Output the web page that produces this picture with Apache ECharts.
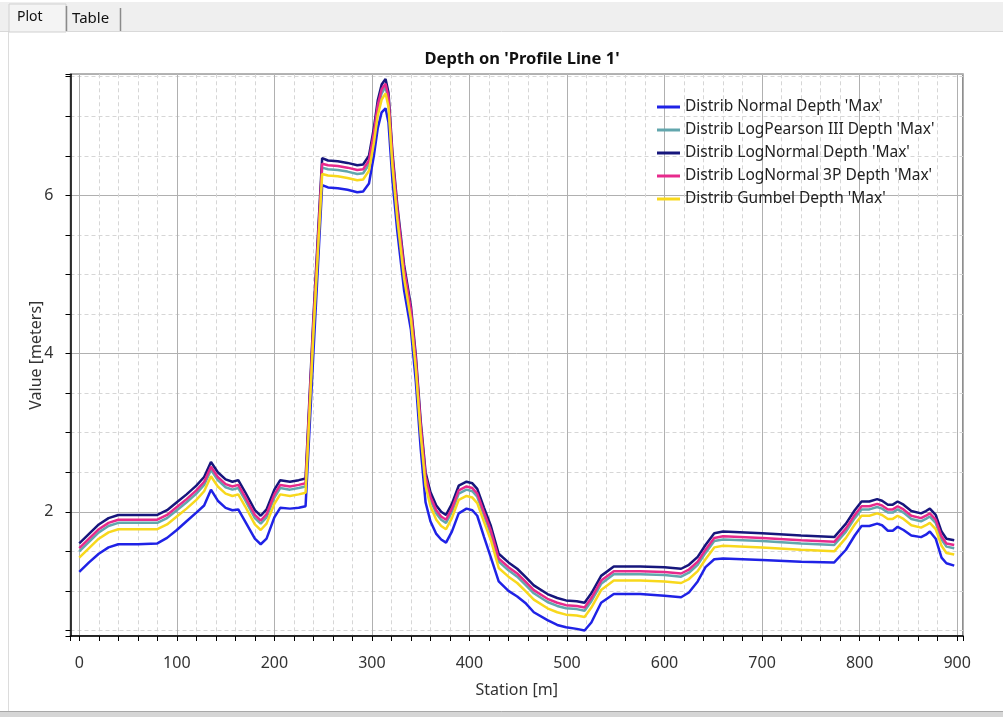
<!DOCTYPE html>
<html>
<head>
<meta charset="utf-8">
<script src="https://cdn.jsdelivr.net/npm/echarts@6/dist/echarts.min.js"></script>
<style>
html,body{margin:0;padding:0;background:#fff;}
#chart{width:1003px;height:717px;}
</style>
</head>
<body>
<div id="chart"></div>
<script>
const stations = [0,10,20,30,40,60,80,90,100,110,
  120,128,135,142,150,157,163,170,180,186,
  192,200,206,216,225,232,240,249,255,265,
  275,285,291,297,302,306,310,314,317,321,
  326,333,340,345,350,355,360,366,371,376,
  382,389,397,403,408,415,422,430,440,449,
  458,466,480,490,499,510,518,525,535,548,
  575,600,617,625,634,642,651,660,700,740,
  774,786,795,802,810,818,823,829,834,839,
  845,853,863,868,872,878,884,889,897];

const normalDepth = [1.24,1.36,1.47,1.55,1.59,1.59,1.60,1.67,1.77,1.88,
  1.99,2.08,2.28,2.14,2.05,2.02,2.03,1.88,1.66,1.59,
  1.66,1.93,2.05,2.04,2.05,2.07,4.00,6.13,6.10,6.09,
  6.07,6.04,6.05,6.15,6.50,6.85,7.05,7.10,6.92,6.20,
  5.55,4.80,4.30,3.65,2.80,2.12,1.88,1.72,1.65,1.61,
  1.75,1.98,2.04,2.02,1.95,1.68,1.42,1.12,1.00,0.93,
  0.84,0.73,0.63,0.57,0.54,0.52,0.50,0.60,0.85,0.96,
  0.96,0.94,0.92,0.98,1.12,1.30,1.40,1.41,1.39,1.37,
  1.36,1.52,1.70,1.82,1.82,1.85,1.83,1.76,1.76,1.81,
  1.77,1.70,1.68,1.71,1.75,1.66,1.42,1.35,1.32];

const logPearsonDepth = [1.50,1.62,1.74,1.82,1.86,1.86,1.86,1.92,2.02,2.12,
  2.23,2.34,2.53,2.40,2.31,2.28,2.30,2.15,1.92,1.85,
  1.93,2.18,2.30,2.28,2.30,2.32,4.33,6.35,6.33,6.32,
  6.30,6.27,6.28,6.39,6.74,7.09,7.29,7.37,7.20,6.46,
  5.79,5.03,4.51,3.89,3.06,2.41,2.15,1.98,1.90,1.86,
  2.00,2.23,2.28,2.26,2.19,1.95,1.72,1.37,1.26,1.18,
  1.07,0.97,0.86,0.81,0.78,0.77,0.75,0.87,1.09,1.21,
  1.21,1.20,1.18,1.23,1.33,1.48,1.63,1.65,1.63,1.60,
  1.58,1.75,1.92,2.03,2.03,2.06,2.04,1.99,1.99,2.03,
  1.99,1.91,1.88,1.91,1.94,1.86,1.65,1.56,1.54];

const logNormalDepth = [1.60,1.72,1.84,1.92,1.96,1.96,1.96,2.02,2.12,2.22,
  2.33,2.44,2.63,2.50,2.41,2.38,2.40,2.25,2.02,1.95,
  2.03,2.28,2.40,2.38,2.40,2.42,4.45,6.47,6.44,6.43,
  6.41,6.38,6.39,6.50,6.85,7.20,7.40,7.47,7.30,6.55,
  5.88,5.12,4.60,3.98,3.15,2.50,2.25,2.08,2.00,1.96,
  2.10,2.33,2.38,2.36,2.29,2.05,1.82,1.47,1.36,1.28,
  1.17,1.07,0.96,0.91,0.88,0.87,0.85,0.97,1.19,1.31,
  1.31,1.30,1.28,1.33,1.43,1.58,1.73,1.75,1.73,1.70,
  1.68,1.85,2.02,2.13,2.13,2.16,2.14,2.09,2.09,2.13,
  2.09,2.01,1.98,2.01,2.04,1.96,1.75,1.66,1.64];

const logNormal3PDepth = [1.54,1.66,1.78,1.86,1.90,1.90,1.90,1.96,2.06,2.16,
  2.27,2.38,2.57,2.44,2.35,2.32,2.34,2.19,1.96,1.89,
  1.97,2.22,2.34,2.32,2.34,2.36,4.38,6.40,6.38,6.37,
  6.35,6.32,6.33,6.44,6.79,7.14,7.34,7.41,7.24,6.50,
  5.83,5.07,4.55,3.93,3.10,2.45,2.19,2.02,1.94,1.90,
  2.04,2.27,2.32,2.30,2.23,1.99,1.76,1.41,1.30,1.22,
  1.11,1.01,0.90,0.85,0.82,0.81,0.79,0.91,1.13,1.25,
  1.25,1.24,1.22,1.27,1.37,1.52,1.67,1.69,1.67,1.64,
  1.62,1.79,1.96,2.07,2.07,2.10,2.08,2.03,2.03,2.07,
  2.03,1.95,1.92,1.95,1.98,1.90,1.69,1.60,1.58];

const gumbelDepth = [1.42,1.54,1.66,1.74,1.78,1.78,1.78,1.84,1.94,2.04,
  2.15,2.26,2.45,2.32,2.23,2.20,2.22,2.07,1.84,1.77,
  1.85,2.10,2.22,2.20,2.22,2.24,4.25,6.27,6.25,6.24,
  6.22,6.19,6.20,6.31,6.66,7.01,7.21,7.29,7.12,6.38,
  5.71,4.95,4.43,3.81,2.98,2.33,2.07,1.90,1.82,1.78,
  1.92,2.15,2.20,2.18,2.11,1.87,1.64,1.29,1.18,1.10,
  0.99,0.89,0.78,0.73,0.70,0.69,0.67,0.79,1.01,1.13,
  1.13,1.12,1.10,1.15,1.25,1.40,1.55,1.57,1.55,1.52,
  1.50,1.67,1.84,1.95,1.95,1.98,1.96,1.91,1.91,1.95,
  1.91,1.83,1.80,1.83,1.86,1.78,1.57,1.48,1.46];

const seriesNames = ["Distrib Normal Depth 'Max'", "Distrib LogPearson III Depth 'Max'", "Distrib LogNormal Depth 'Max'", "Distrib LogNormal 3P Depth 'Max'", "Distrib Gumbel Depth 'Max'"];
const seriesColors = ['#1f22e6', '#62a6ad', '#16167c', '#e72a8c', '#f8d81c'];
const seriesValues = [normalDepth, logPearsonDepth, logNormalDepth, logNormal3PDepth, gumbelDepth];

const xMajorLabels = [0,100,200,300,400,500,600,700,800,900];
const yMajorLabels = [2,4,6];

const FONT = 'Noto Sans';
const chart = echarts.init(document.getElementById('chart'), null, {renderer:'canvas'});

const series = seriesNames.map((n, i) => ({
  name: n,
  type: 'line',
  xAxisIndex: 0,
  yAxisIndex: 0,
  data: stations.map((s, j) => [s, seriesValues[i][j]]),
  showSymbol: false,
  symbol: 'none',
  lineStyle: {color: seriesColors[i], width: 2.5},
  itemStyle: {color: seriesColors[i]},
  animation: false
}));

const option = {
  animation: false,
  backgroundColor: '#ffffff',
  title: {
    text: "Depth on 'Profile Line 1'",
    left: 517, top: 46, textAlign: 'center',
    textStyle: {fontFamily: FONT, fontSize: 16.5, fontWeight: 'bold', color: '#111'}
  },
  legend: {
    orient: 'vertical', left: 657, top: 99, padding: 0,
    itemWidth: 23, itemHeight: 3, itemGap: 7, icon: 'rect',
    selectedMode: false,
    textStyle: {fontFamily: FONT, fontSize: 15.5, lineHeight: 16, color: '#222'},
    data: seriesNames
  },
  grid: {
    left: 70.5, right: 40, top: 74.3, bottom: 81,
    show: true, borderColor: '#6a6a6a', borderWidth: 1.5, backgroundColor: 'transparent'
  },
  xAxis: [
    {
      type: 'value', position: 'bottom', min: -9, max: 906, minInterval: 20, maxInterval: 20,
      axisLine: {show: true, onZero: false, lineStyle: {color: '#000', width: 1.5}},
      axisTick: {show: true, inside: false, length: 5, lineStyle: {color: '#000', width: 1}},
      axisLabel: {show: false},
      splitLine: {show: true, lineStyle: {color: '#d6d6d6', type: [4,3], width: 1}}
    },
    {
      type: 'value', position: 'bottom', min: -9, max: 906, minInterval: 100, maxInterval: 100,
      axisLine: {show: false, onZero: false}, axisTick: {show: false},
      axisLabel: {show: true, margin: 19, fontFamily: FONT, fontSize: 16, color: '#333',
        formatter: v => (xMajorLabels.indexOf(Math.round(v)) >= 0 && Math.abs(v - Math.round(v)) < 1e-6) ? String(Math.round(v)) : ''},
      splitLine: {show: true, lineStyle: {color: '#b0b0b0', width: 1}},
      name: 'Station [m]', nameLocation: 'middle', nameGap: 46, nameMoveOverlap: false,
      nameTextStyle: {fontFamily: FONT, fontSize: 16, color: '#333'}
    }
  ],
  yAxis: [
    {
      type: 'value', position: 'left', min: 0.43, max: 7.53, minInterval: 0.5, maxInterval: 0.5,
      axisLine: {show: true, onZero: false, lineStyle: {color: '#000', width: 1.5}},
      axisTick: {show: true, inside: false, length: 5, lineStyle: {color: '#000', width: 1}},
      axisLabel: {show: false},
      splitLine: {show: true, lineStyle: {color: '#d6d6d6', type: [4,3], width: 1}}
    },
    {
      type: 'value', position: 'left', min: 0.43, max: 7.53, minInterval: 2, maxInterval: 2,
      axisLine: {show: false, onZero: false}, axisTick: {show: false},
      axisLabel: {show: true, margin: 17, fontFamily: FONT, fontSize: 16, color: '#333',
        formatter: v => (yMajorLabels.indexOf(Math.round(v)) >= 0 && Math.abs(v - Math.round(v)) < 1e-6) ? String(Math.round(v)) : ''},
      splitLine: {show: true, lineStyle: {color: '#b0b0b0', width: 1}},
      name: 'Value [meters]', nameLocation: 'middle', nameGap: 26, nameMoveOverlap: false,
      nameTextStyle: {fontFamily: FONT, fontSize: 16, color: '#333'}
    }
  ],
  graphic: [
    {type: 'rect', z: -10, silent: true, shape: {x: 0, y: 2, width: 1003, height: 29}, style: {fill: '#efefef'}},
    {type: 'line', z: -9, silent: true, shape: {x1: 0, y1: 31.5, x2: 1003, y2: 31.5}, style: {stroke: '#d9d9d9', lineWidth: 1}},
    {type: 'rect', z: -9, silent: true, shape: {x: 9, y: 4, width: 57, height: 28}, style: {fill: '#f4f4f4', stroke: '#d0d0d0', lineWidth: 1}},
    {type: 'line', z: -8, silent: true, shape: {x1: 66.5, y1: 6, x2: 66.5, y2: 31}, style: {stroke: '#8a8a8a', lineWidth: 1.5}},
    {type: 'line', z: -8, silent: true, shape: {x1: 120.5, y1: 8, x2: 120.5, y2: 31}, style: {stroke: '#8a8a8a', lineWidth: 1.5}},
    {type: 'text', z: -7, silent: true, style: {x: 17, y: 17, text: 'Plot', fill: '#111', font: '14px "Noto Sans"', verticalAlign: 'middle'}},
    {type: 'text', z: -7, silent: true, style: {x: 72, y: 19, text: 'Table', fill: '#111', font: '15px "Noto Sans"', verticalAlign: 'middle'}},
    {type: 'line', z: -9, silent: true, shape: {x1: 8.5, y1: 32, x2: 8.5, y2: 712}, style: {stroke: '#dcdcdc', lineWidth: 1}},
    {type: 'rect', z: -9, silent: true, shape: {x: 0, y: 711, width: 1003, height: 6}, style: {fill: '#d6d6d6'}},
    {type: 'line', z: -8, silent: true, shape: {x1: 0, y1: 711.5, x2: 1003, y2: 711.5}, style: {stroke: '#a8a8a8', lineWidth: 1}}
  ],
  series: series
};
chart.setOption(option);
</script>
</body>
</html>
